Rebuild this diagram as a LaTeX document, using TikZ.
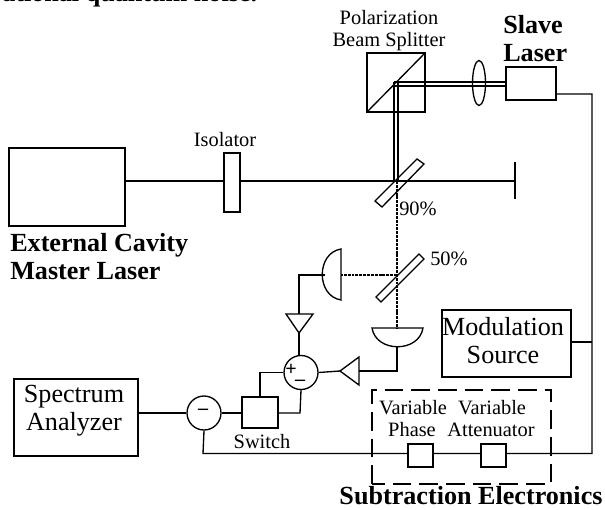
\documentclass[tikz,border=0pt]{standalone}
\usepackage{fontspec}
\setmainfont{Liberation Serif}
\usepackage{tikz}
\usetikzlibrary{calc,shapes.geometric}

\tikzset{
    beam/.style={black, line width=1.2pt},
    probe/.style={black, line width=1pt, dash pattern=on 2.2pt off 0.7pt},
    wire/.style={black, line width=1pt},
    devbox/.style={draw, black, line width=1pt, fill=white, inner sep=0pt},
    sumcirc/.style={draw, black, line width=1pt, circle, fill=white, minimum size=25.5pt, inner sep=0pt},
    lbl/.style={font=\fontsize{15.3}{16.5}\selectfont, inner sep=0pt, align=center},
    biglbl/.style={font=\fontsize{19.6}{21}\selectfont, inner sep=0pt, align=center},
    boldlbl/.style={font=\fontsize{19.6}{21}\selectfont\bfseries, inner sep=0pt, align=left},
    signlbl/.style={font=\fontsize{15}{15}\selectfont\bfseries, inner sep=0pt},
}

\begin{document}
\begin{tikzpicture}[x=0.75pt, y=-0.75pt]
        \useasboundingbox (0,0) rectangle (605,509);
        \fill[white] (0,0) rectangle (605,509);

        % cut off line of text at the top
        \begin{scope}
            \clip (0,0) rectangle (605,9);
            \node[anchor=base west, font=\fontsize{19.6}{21}\selectfont\bfseries, inner sep=0pt] (toptext) at (2,2) {ational quantum noise.};
        \end{scope}

        % beams
        \coordinate (split) at (397,84);
        \coordinate (m90) at (397,181);
        \coordinate (m50) at (397,275);
        \coordinate (stop) at (515,181);
        \node[devbox, minimum width=87pt, minimum height=58.5pt] (master) at (67,187) {};
        \node[devbox, minimum width=37.5pt, minimum height=24.75pt] (slave) at (531,83.5) {};
        \draw[beam] (master.east |- stop) -- (stop);
        \draw[black, line width=1.2pt] (515,162) -- (515,199);
        \draw[beam] (394,82) -- (slave.west |- 0,82);
        \draw[beam] (394,86) -- (slave.west |- 0,86);
        \draw[beam] (394,82) -- (394,181);
        \draw[beam] (398,82) -- (398,181);
        \draw[probe] (m90) -- (397,328) coordinate (d2top);
        \draw[probe] (m50) -- (341,275) coordinate (d1flat);

        % isolator
        \draw[devbox] (224,153) rectangle (240,212);
        \node[lbl] (isolabel) at (225,140) {Isolator};

        % beam splitter
        \draw[black, line width=1.1pt] (367,53) rectangle (425,112);
        \draw[black, line width=1pt] (367,112) -- (425,53);
        \node[lbl] (pbs) at (389,31) {Polarization\\Beam Splitter};

        % lens
        \draw[black, line width=1pt] (479,83) ellipse (6.5 and 22.5);

        % mirrors
        \draw[black, line width=1pt] (417,159) -- (424,164) -- (382,207) -- (375,201) -- cycle;
        \draw[black, line width=1pt] (419,254) -- (424,259) -- (381,302) -- (376,297) -- cycle;
        \node[lbl, anchor=west] (r90) at (399,209) {90\%};
        \node[lbl, anchor=west] (r50) at (430,259) {50\%};

        % detectors
        \draw[black, line width=1pt] (341,249) .. controls (316,253) and (316,296) .. (341,300) -- cycle;
        \draw[black, line width=1pt] (372,328) .. controls (376,353) and (419,353) .. (423,328) -- cycle;

        % amplifiers and circuit
        \node[sumcirc] (sum) at (301,372.5) {};
        \node[sumcirc] (diff) at (204,413) {};
        \node[devbox, minimum width=27pt, minimum height=23.25pt] (switch) at (260,412.5) {};
        \node[devbox, minimum width=93pt, minimum height=57.75pt] (analyzer) at (76,417.5) {};
        \coordinate (ampAtop) at (299,314);
        \coordinate (ampAtip) at (299,333);
        \coordinate (ampBtip) at (340,371);
        \draw[black, line width=1pt] (286,314) -- (313,314) -- (ampAtip) -- cycle;
        \draw[black, line width=1pt] (359,357) -- (359,385) -- (ampBtip) -- cycle;
        \draw[wire] (325,275) -- (299,275) -- (ampAtop);
        \draw[wire] (ampAtip) -- (ampAtip |- sum.north);
        \draw[wire] (397,347) -- (397,371) -- (359,371);
        \draw[wire] (ampBtip) -- (sum.east);
        \draw[wire] (switch.north) |- (sum.west);
        \draw[wire] (switch.east |- diff) -- (300,413) -- (sum.south);
        \draw[wire] (diff.east) -- (switch.west |- diff);
        \draw[wire] (analyzer.east |- diff) -- (diff.west);
        \node[signlbl] (plus) at (291,370) {+};
        \node[signlbl] (minusA) at (300,383) {--};
        \node[signlbl] (minusB) at (203,412) {--};

        % right hand bus
        \node[devbox, minimum width=96.75pt, minimum height=50.25pt] (mod) at (506.5,343.5) {};
        \draw[wire] (slave.east |- 0,94) -- (592,94) -- (592,453.5) -- (203,453.5) -- (diff.south);
        \draw[wire] (mod.east |- 0,342) -- (592,342);
        \node[devbox, minimum width=18.75pt, minimum height=17.25pt] (phase) at (420.5,455.5) {};
        \node[devbox, minimum width=18.75pt, minimum height=17.25pt] (atten) at (493.5,455.5) {};

        % subtraction electronics
        \draw[black, line width=1pt, dash pattern=on 14pt off 6pt] (372,484) -- (372,390) -- (551,390) -- (551,484) -- cycle;
        \node[lbl] at (413,408) {Variable};
        \node[lbl] at (492,408) {Variable};
        \node[lbl] at (412,430) {Phase};
        \node[lbl] at (491,430) {Attenuator};

        % large labels
        \node[biglbl] (spectrum) at (74,411) {Spectrum\\Analyzer};
        \node[biglbl] (modlabel) at (503,341) {Modulation\\Source};
        \node[lbl] (switchlabel) at (262,442) {Switch};
        \node[boldlbl, anchor=west] (slavelabel) at (503,39) {Slave\\Laser};
        \node[boldlbl, anchor=west] (masterlabel) at (10,257) {External Cavity\\Master Laser};
        \node[boldlbl, align=center] (sublabel) at (471,496) {Subtraction Electronics};
    \end{tikzpicture}
\end{document}
